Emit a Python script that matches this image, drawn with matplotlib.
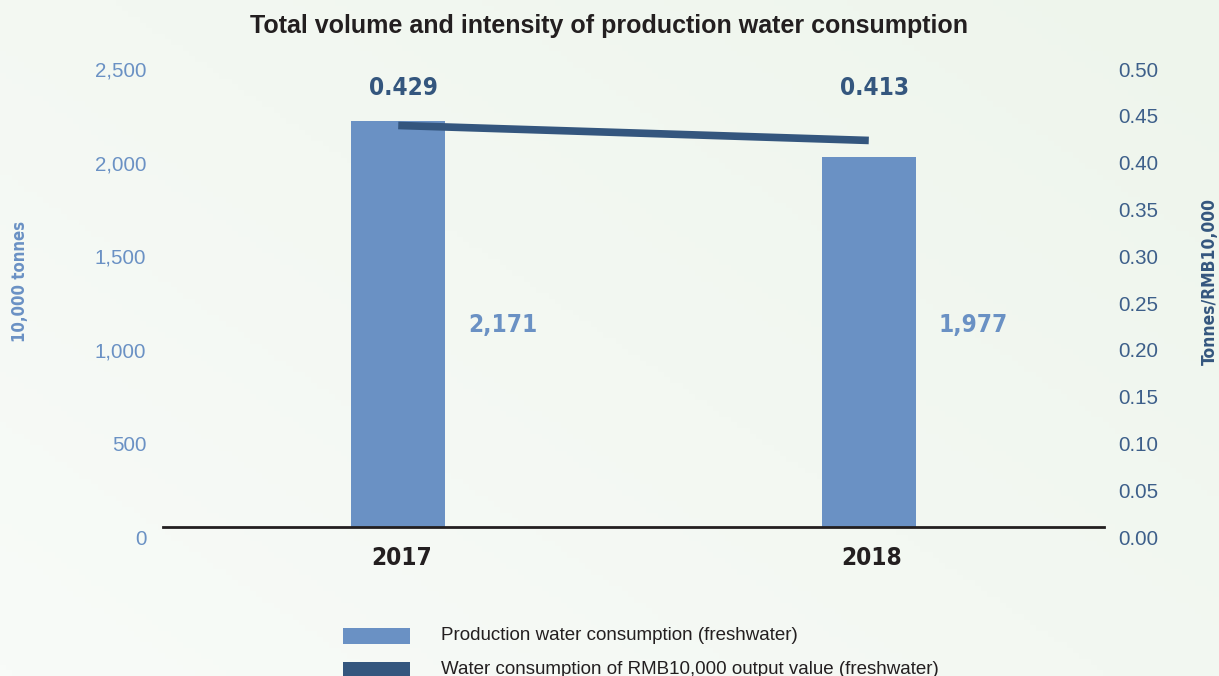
import matplotlib.pyplot as plt
import numpy as np
from matplotlib.colors import LinearSegmentedColormap
from matplotlib.patches import Rectangle
from matplotlib.transforms import ScaledTranslation

years = ["2017", "2018"]
volume = [2171, 1977]           # 10,000 tonnes
intensity = [0.429, 0.413]      # tonnes per RMB10,000
volume_labels = ["2,171", "1,977"]
intensity_labels = ["0.429", "0.413"]
left_ticks = [0, 500, 1000, 1500, 2000, 2500]
right_ticks = [0.00, 0.05, 0.10, 0.15, 0.20, 0.25, 0.30, 0.35, 0.40, 0.45, 0.50]

BAR = "#6a91c4"
LINE = "#34567e"
RTICK = "#3d5f8a"
SANS = ["Liberation Sans", "DejaVu Sans"]
# condensed bold face for figures and axis titles
NARROW = dict(family="DejaVu Sans", stretch="condensed", fontweight="bold")

fig = plt.figure(figsize=(12.19, 6.76), dpi=100)

# soft green-white backdrop
bg = fig.add_axes([0, 0, 1, 1], zorder=-10)
bg.axis("off")
gx, gy = np.meshgrid(np.linspace(0, 1, 200), np.linspace(0, 1, 120))
grad = 0.55 * gx + 0.45 * (1 - gy)
cmap = LinearSegmentedColormap.from_list("bg", ["#f8fbf8", "#eef5ec"])
bg.imshow(grad, cmap=cmap, aspect="auto", extent=[0, 1, 0, 1], origin="upper")
bg.set_xlim(0, 1)
bg.set_ylim(0, 1)

ax = fig.add_axes([0.1337, 0.2204, 0.7720, 0.6923])
ax.patch.set_alpha(0)
x = np.arange(len(years))
ax.bar(x, volume, width=0.2, color=BAR, zorder=2)
ax.set_xlim(-0.5, 1.5)
ax.set_ylim(0, 2500)
ax.set_yticks(left_ticks)
ax.set_yticklabels([f"{v:,}" for v in left_ticks], fontsize=14.8, color=BAR, family=SANS)
ax.set_xticks(x)
ax.set_xticklabels(years, fontsize=17.5, color="#231f20", **NARROW)
ax.tick_params(axis="x", length=0, pad=14)
ax.tick_params(axis="y", length=0, pad=12)
for s in ["top", "left", "right"]:
    ax.spines[s].set_visible(False)
ax.spines["bottom"].set_linewidth(2)
ax.spines["bottom"].set_color("#231f20")
ax.spines["bottom"].set_zorder(3)

ax2 = ax.twinx()
ax2.plot(x, intensity, color=LINE, linewidth=5.5, solid_capstyle="butt", zorder=3)
ax2.set_ylim(0, 0.5)
ax2.set_yticks(right_ticks)
ax2.set_yticklabels([f"{v:.2f}" for v in right_ticks], fontsize=14.8, color=RTICK, family=SANS)
ax2.tick_params(axis="y", length=0, pad=10)
for s in ["top", "left", "right", "bottom"]:
    ax2.spines[s].set_visible(False)

# tick labels sit a little below their levels
shift = ScaledTranslation(0, -10 / 100, fig.dpi_scale_trans)
for lab in ax.get_yticklabels() + ax2.get_yticklabels():
    lab.set_transform(lab.get_transform() + shift)
xshift = ScaledTranslation(3 / 100, 0, fig.dpi_scale_trans)
for lab in ax.get_xticklabels():
    lab.set_transform(lab.get_transform() + xshift)

for i in range(len(years)):
    ax2.text(x[i] + 0.012, 0.469, intensity_labels[i], ha="center", va="center",
             fontsize=17.5, color=LINE, **NARROW)
    ax.text(x[i] + 0.222, 1080, volume_labels[i], ha="center", va="center",
            fontsize=17.5, color=BAR, **NARROW)

fig.text(0.5, 0.962, "Total volume and intensity of production water consumption",
         ha="center", va="center", fontsize=18, fontweight="bold", color="#231f20", family=SANS)
fig.text(0.0164, 0.583, "10,000 tonnes", rotation=90, ha="center", va="center",
         fontsize=12, color=BAR, **NARROW)
fig.text(0.9925, 0.583, "Tonnes/RMB10,000", rotation=90, ha="center", va="center",
         fontsize=12.5, color=LINE, **NARROW)

# legend drawn as swatches plus text
legend_items = [(BAR, "Production water consumption (freshwater)"),
                (LINE, "Water consumption of RMB10,000 output value (freshwater)")]
for k, (col, txt) in enumerate(legend_items):
    ytop = 628 + 34 * k
    fig.add_artist(Rectangle((343 / 1219, 1 - (ytop + 16) / 676), 67 / 1219, 16 / 676,
                             transform=fig.transFigure, color=col, lw=0))
    fig.text(441 / 1219, 1 - (ytop + 7) / 676, txt, ha="left", va="center",
             fontsize=13.5, color="#231f20", family=SANS)

fig.savefig("out.png", dpi=100)
